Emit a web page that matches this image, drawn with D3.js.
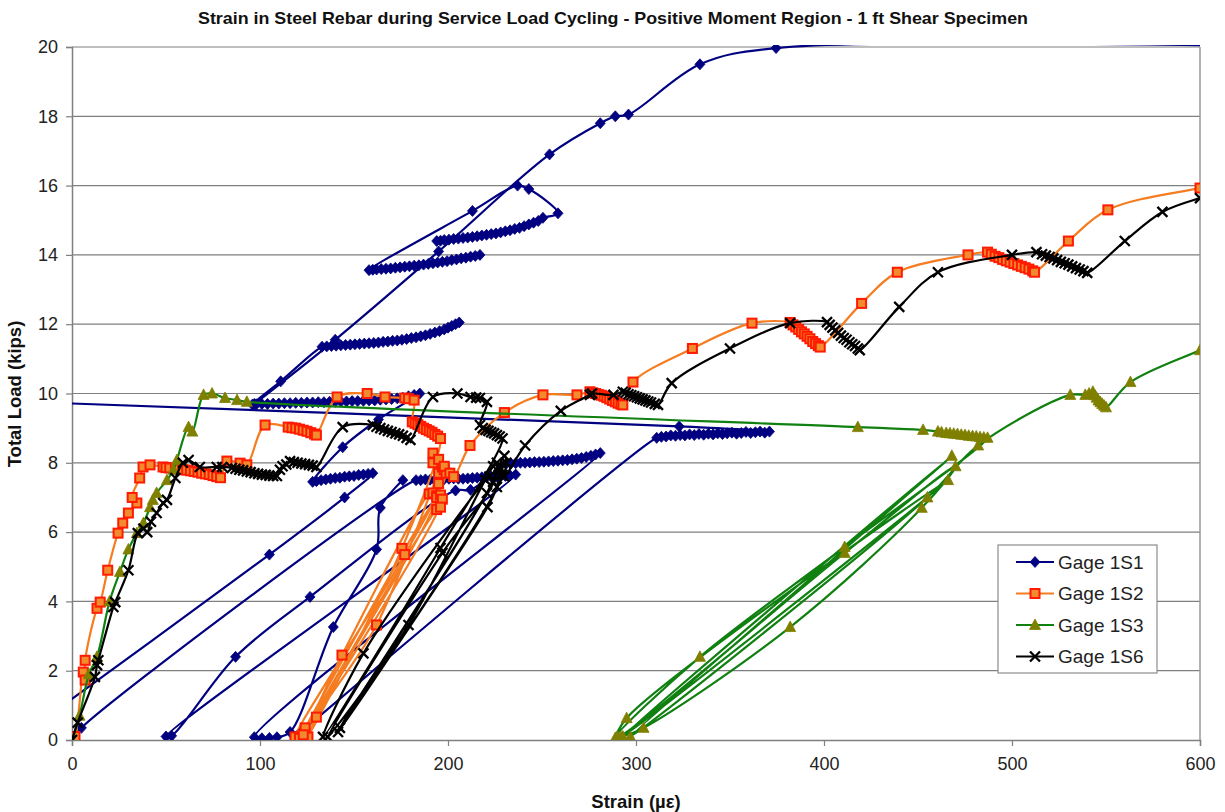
<!DOCTYPE html>
<html>
<head>
<meta charset="utf-8">
<script src="https://cdn.jsdelivr.net/npm/d3@7"></script>
<style>
  html, body { margin: 0; padding: 0; background: #fff; }
  svg { display: block; }
  text { font-family: "Liberation Sans", Arial, sans-serif; }
</style>
</head>
<body>
<svg id="chart" width="1225" height="812"></svg>
<script>
// ---- chart text ----
const chartTitle = "Strain in Steel Rebar during Service Load Cycling - Positive Moment Region - 1 ft Shear Specimen";
const xTitle = "Strain (\u00B5\u03B5)";
const yTitle = "Total Load (kips)";
const strainTicks = [0, 100, 200, 300, 400, 500, 600];
const loadTicks = [0, 2, 4, 6, 8, 10, 12, 14, 16, 18, 20];
const gageNames = ["Gage 1S1", "Gage 1S2", "Gage 1S3", "Gage 1S6"];

// ---- readings: [strain (microstrain), total load (kips)], grouped in logged runs ----
const gage1S1 = [
  [[-40,9.79],[323,9.05],[371,8.9],[368.5,8.87],[366,8.9],[363.5,8.88],[361,8.86],[358.5,8.89],[356,8.86],[353.5,8.84],[351,8.87],[348.5,8.85],[346,8.83],[343.5,8.85],
   [341,8.82],[338.5,8.84],[336,8.81],[333.5,8.83],[331,8.8],[328.5,8.82],[326,8.79],[323.5,8.8],[321,8.78],[318.5,8.79],[316,8.76],[313.5,8.75],[311,8.72],[121,0.2]],
  [[-30,0],[105,5.35],[145,7.0],[160,7.7],[157.5,7.68],[155,7.66],[152.5,7.65],[150,7.62],[147.5,7.61],[145,7.6],[142.5,7.57],[140,7.56],[137.5,7.54],[135,7.52],[132.5,7.5],[130,7.47],[128,7.45],
   [144,8.45],[163,9.25],[185,10.0],[182,9.96],[179,9.92],[176,9.88],[173,9.86],[170,9.84],[167,9.83],[164,9.82],[161,9.8],[158,9.8],[155,9.79],[152,9.78],[149,9.78],[146,9.77],[143,9.77],
   [140,9.76],[137,9.76],[134,9.75],[131,9.75],[128,9.74],[125,9.74],[122,9.73],[119,9.73],[116,9.72],[113,9.72],[110,9.71],[107,9.71],[104,9.7],[101,9.7],[98,9.69],[96,9.68],
   [111,10.35],[133,11.35],[135.5,11.36],[138,11.37],[140.5,11.38],[143,11.39],[145.5,11.4],[148,11.41],[150.5,11.42],[153,11.43],[155.5,11.44],[158,11.45],[160.5,11.46],[163,11.47],
   [165.5,11.49],[168,11.5],[170.5,11.52],[173,11.53],[175.5,11.55],[178,11.57],[180.5,11.6],[183,11.62],[185.5,11.65],[188,11.68],[190.5,11.72],[193,11.76],[195.5,11.8],[198,11.85],
   [200,11.9],[202,11.95],[204,12.0],[206,12.05]],
  [[217,14.0],[214.5,13.97],[212,13.95],[209.5,13.92],[207,13.9],[204.5,13.87],[202,13.85],[199.5,13.82],[197,13.8],[194.5,13.78],[192,13.76],[189.5,13.74],[187,13.72],[184.5,13.7],
   [182,13.69],[179.5,13.67],[177,13.66],[174.5,13.64],[172,13.63],[169.5,13.61],[167,13.6],[164.5,13.59],[162,13.58],[160,13.57],[158,13.56],
   [213,15.27],[237,16.0],[243,15.9],[258.5,15.2],[250.5,15.07],[248,14.98],[245.5,14.93],[243,14.88],[240.5,14.83],[238,14.78],[235.5,14.75],[233,14.71],[230.5,14.68],[228,14.65],
   [225.5,14.62],[223,14.6],[220.5,14.58],[218,14.56],[215.5,14.54],[213,14.52],[210.5,14.5],[208,14.49],[205.5,14.47],[203,14.46],[200.5,14.44],[198,14.43],[196,14.41],[194,14.4]],
  [[97,9.7],[140,11.55],[195,14.1],[254,16.9],[281,17.8],[289,18.0],[296,18.05],[334,19.5],[374.5,19.97],[650,20]],
  [[0,0],[5,0.35],[183,7.5],[185.5,7.5],[188,7.52],[190.5,7.51],[193,7.5],[195.5,7.52],[198,7.53],[200.5,7.54],[203,7.55],[205.5,7.54],[208,7.54],[210.5,7.55],[213,7.56],[215.5,7.57],
   [218,7.58],[220.5,7.59],[223,7.6],[225.5,7.6],[228,7.61],[230.5,7.62],[233,7.64],[236,7.66],
   [50,0.1],[53,0.12],[87,2.4],[126.6,4.13],[204,7.2],[212,7.22],
   [231,7.97],[233.5,7.98],[236,7.99],[238.5,8.0],[241,8.0],[243.5,8.01],[246,8.02],[248.5,8.02],[251,8.03],[253.5,8.04],[256,8.05],[258.5,8.06],[261,8.07],[263.5,8.08],[266,8.1],
   [268.5,8.12],[271,8.14],[273.5,8.17],[276,8.2],[278.5,8.24],[281,8.28],
   [97,0.08],[101,0.05],[105,0.06],[109,0.08],[116,0.23],[139,3.26],[162,5.5],[164,6.7],[176,7.5]]
];

const gage1S2 = [
  [[0,0],[1.6,0.1],[6,1.96],[7,1.73],[7,2.3],[13.3,3.8],[15,3.98],[19,4.9],[24.5,5.97],[27,6.26],[30,6.55],[34.5,6.84],[32,7.0],[36,7.56],[37.8,7.88],[41.5,7.94],[48.4,7.88],
   [50,7.86],[52,7.85],[55,7.84],[57,7.82],[59,7.8],[61,7.79],[63,7.77],[65,7.75],[67,7.73],[69,7.7],[71,7.68],[73,7.66],[75,7.63],[77,7.6],[79,7.57],
   [82.4,8.05],[89.4,7.99],[93,7.94],
   [102.7,9.09],[115,9.03],[117,9.01],[119,9.0],[121,8.97],[123,8.94],[125,8.91],[127,8.87],[129,8.83],[130,8.8],
   [141,9.9],[157,10.0],[166.5,9.9],[177,9.87],[179,9.85],[182,9.81],
   [181,9.18],[182.5,9.14],[184,9.1],[185.5,9.05],[187,9.0],[188.5,8.96],[190,8.92],[191.5,8.88],[193,8.82],[194.5,8.77],[196,8.7],
   [175.5,5.53],[125.5,0.09],[130,0.66],[162,3.32],[195,7.7],[197,7.88],[198,7.8],[199,7.7],
   [177,5.35],[118.6,0.09],[124,0.35],[143.6,2.45],[190,7.1],[192,7.13],[194,7.05],
   [121,0.05],[194,7.0],[196,7.07],[197,6.95],
   [123,0.15],[194,6.65],[196,6.72],[195,7.4],[192,8.0],[192,8.28],[195,8.1],[198,7.9],[201,7.7],[203,7.6],
   [211.7,8.5],[230,9.45],[250.5,9.96],[268.6,9.96],[275.5,10.05],[277,10.02],[278.5,10.0],[280,9.97],[281.5,9.95],[283,9.92],[284.5,9.88],[286,9.84],[287.5,9.8],[289,9.76],[290.5,9.72],[292,9.69],[293,9.67],
   [298.4,10.33],[330,11.3],[361.7,12.03],[382,12.05],[383.5,11.98],[385,11.92],[386.5,11.85],[388,11.78],[389.5,11.72],[391,11.65],[392.5,11.58],[394,11.5],[395.5,11.44],[397,11.38],[398,11.34],
   [420,12.6],[439,13.5],[476.6,14.0],[487,14.08],[489,14.02],[491,13.96],[493,13.92],[495,13.87],[497,13.83],[499,13.79],[501,13.75],[503,13.71],[505,13.67],[507,13.63],[509,13.59],[511,13.54],[512,13.5],
   [530,14.4],[551,15.3],[600,15.93],[640,16.3]]
];

const gage1S3 = [
  [[0,0],[4,0.7],[9,1.9],[13.3,2.4],[20,4.0],[25.5,4.85],[30,5.5],[34.5,5.97],[38,6.26],[41.5,6.72],[43,6.93],[45,7.13],[50.5,7.5],[54,7.8],[55.8,8.08],
   [62,9.03],[64,8.9],[70,9.96],[74.5,10.0],[81.4,9.87],[87.8,9.81],[93,9.76],
   [418,9.03],[452.7,8.95],[460.6,8.9],[462.5,8.88],[465,8.86],[467,8.85],[469,8.84],[471,8.83],[473,8.81],[475,8.8],[477,8.78],[479,8.77],[481,8.76],[483,8.74],[485,8.73],[487,8.72],
   [411,5.57],[334,2.4],[289,0.06],[292,0.09],[304,0.35],[382,3.26],[452,6.7],[470,7.9],
   [411,5.4],[290,0.1],[295,0.63],[466,7.5],[293,0.1],[468,8.2],[297,0.09],[455,7.0],
   [482,8.5],[531,9.96],[539,9.96],[541,10.0],[543,10.05],[544,9.95],[545,9.88],[546,9.8],[547,9.75],[548,9.7],[549,9.65],[550,9.6],[563,10.33],[600,11.25],[620,11.7]]
];

const gage1S6 = [
  [[0,0],[3,0.5],[12.2,1.82],[13.3,2.16],[14,2.3],[22,3.84],[23,3.98],[30,4.9],[35,5.97],[38,6.1],[40,6.0],[42,6.3],[45,6.55],[48.5,6.84],[50.5,6.93],[55,7.56],[59,8.0],[62,8.08],
   [68,7.88],[77,7.88],[80,7.88],[85,7.85],[87,7.83],[89,7.8],[91,7.78],[93,7.75],[95,7.73],[97,7.7],[99,7.68],[101,7.66],[103,7.65],[105,7.63],[107,7.62],[109,7.62],
   [110.6,7.8],[112,7.9],[114,7.95],[116,8.05],[118,8.02],[120,8.0],[122,7.98],[124,7.96],[126,7.94],[128,7.92],[130,7.88],
   [144,9.03],[160,9.09],[162,9.04],[164,9.0],[166,8.96],[168,8.92],[170,8.89],[172,8.85],[174,8.82],[176,8.78],[178,8.72],[180,8.66],
   [192,9.9],[205,10.0],[212,9.9],[215,9.88],[217,9.87],[220.7,9.76],
   [217,9.09],[218.5,9.0],[220,8.95],[221.5,8.92],[223,8.88],[224.5,8.85],[226,8.8],[227.5,8.76],[229,8.7],
   [196,5.54],[133.5,0.09],[155,2.5],[220,7.5],[222,7.6],[224,7.45],
   [197,5.4],[136,0.09],[179,3.32],[224,7.9],[226,8.0],[227,7.85],
   [142.5,0.35],[221,6.72],[226,7.3],[228,7.8],[229,7.65],
   [141.5,0.23],[220.7,7.13],[227,7.9],[230,8.2],[231,8.0],[230,7.6],
   [241,8.5],[260,9.5],[275.5,9.96],[276.6,10.0],[288,9.96],[293,10.05],[294.5,10.02],[296,9.98],[297.5,9.95],[299,9.92],[300.5,9.89],[302,9.86],[303.5,9.83],[305,9.8],[306.5,9.77],[308,9.74],[310,9.7],[311.7,9.67],
   [319,10.3],[350,11.3],[382,12.03],[401.6,12.06],[403,11.98],[404.5,11.9],[406,11.82],[407.5,11.75],[409,11.67],[410.5,11.6],[412,11.55],[413.5,11.48],[415,11.42],[416.5,11.37],[418,11.3],[419,11.25],
   [440,12.5],[460.6,13.5],[500,14.0],[513,14.08],[516,14.02],[518,13.98],[520,13.94],[522,13.9],[524,13.85],[526,13.8],[528,13.76],[530,13.72],[532,13.67],[534,13.62],[536,13.58],[538,13.53],[540,13.48],
   [560,14.4],[580,15.24],[600,15.64],[640,16.2]]
];

// ---- layout ----
const svg = d3.select("#chart");
const plot = { left: 72, right: 1200, top: 47, bottom: 740 };
const x = d3.scaleLinear().domain([0, 600]).range([plot.left, plot.right]);
const y = d3.scaleLinear().domain([0, 20]).range([plot.bottom, plot.top]);

svg.append("defs").append("clipPath").attr("id", "plotClip")
  .append("rect")
  .attr("x", plot.left).attr("y", plot.top - 2)
  .attr("width", plot.right - plot.left).attr("height", plot.bottom - plot.top + 2);

// horizontal gridlines
svg.append("g")
  .selectAll("line").data(loadTicks.filter(d => d > 0)).join("line")
  .attr("x1", plot.left).attr("x2", plot.right)
  .attr("y1", d => y(d)).attr("y2", d => y(d))
  .attr("stroke", "#7f7f7f").attr("stroke-width", 1.2);

// right border of plot area
svg.append("line")
  .attr("x1", plot.right).attr("x2", plot.right)
  .attr("y1", plot.top).attr("y2", plot.bottom)
  .attr("stroke", "#9a9a9a").attr("stroke-width", 1.5);

// axes
const xAxis = svg.append("g").attr("transform", `translate(0,${plot.bottom})`)
  .call(d3.axisBottom(x).tickValues(strainTicks).tickSize(6).tickPadding(11).tickFormat(d3.format("d")));
const yAxis = svg.append("g").attr("transform", `translate(${plot.left},0)`)
  .call(d3.axisLeft(y).tickValues(loadTicks).tickSize(6).tickPadding(8).tickFormat(d3.format("d")));
[xAxis, yAxis].forEach(g => {
  g.select(".domain").attr("stroke", "#7f7f7f").attr("stroke-width", 1.5);
  g.selectAll(".tick line").attr("stroke", "#7f7f7f").attr("stroke-width", 1.2);
  g.selectAll(".tick text").attr("font-size", 18).attr("fill", "#222")
    .attr("font-family", "'Liberation Sans', Arial, sans-serif");
});

// titles
svg.append("text").attr("x", 613).attr("y", 24).attr("text-anchor", "middle")
  .attr("font-size", 17).attr("font-weight", "bold").attr("fill", "#111")
  .attr("textLength", 830).attr("lengthAdjust", "spacingAndGlyphs").text(chartTitle);
svg.append("text").attr("x", 636).attr("y", 808).attr("text-anchor", "middle")
  .attr("font-size", 18.5).attr("font-weight", "bold").attr("fill", "#111").text(xTitle);
svg.append("text").attr("transform", "translate(21,394) rotate(-90)").attr("text-anchor", "middle")
  .attr("font-size", 18.5).attr("font-weight", "bold").attr("fill", "#111").text(yTitle);

// ---- marker shapes ----
const markerDraw = {
  diamond: g => g.append("path").attr("d", "M0,-5.5L5,0L0,5.5L-5,0Z").attr("fill", "#000080").attr("stroke", "#000080").attr("stroke-width", 0.8),
  square: g => g.append("rect").attr("x", -4.5).attr("y", -4.5).attr("width", 9).attr("height", 9)
    .attr("fill", "#f28a2e").attr("stroke", "#ff1a00").attr("stroke-width", 2),
  triangle: g => g.append("path").attr("d", "M0,-6L5.5,4.5L-5.5,4.5Z").attr("fill", "#7f7f00").attr("stroke", "#7f7f00").attr("stroke-width", 0.8),
  cross: g => g.append("path").attr("d", "M-5,-5L5,5M-5,5L5,-5").attr("fill", "none").attr("stroke", "#000").attr("stroke-width", 2.3)
};

const series = [
  { name: gageNames[0], runs: gage1S1, color: "#000080", marker: "diamond" },
  { name: gageNames[1], runs: gage1S2, color: "#f57c20", marker: "square" },
  { name: gageNames[2], runs: gage1S3, color: "#108010", marker: "triangle" },
  { name: gageNames[3], runs: gage1S6, color: "#000000", marker: "cross" }
];

const line = d3.line().x(d => x(d[0])).y(d => y(d[1])).curve(d3.curveCatmullRom.alpha(0.5));
const plotArea = svg.append("g").attr("clip-path", "url(#plotClip)");

series.forEach(s => {
  const g = plotArea.append("g");
  g.selectAll("path.run").data(s.runs).join("path").attr("class", "run")
    .attr("d", line).attr("fill", "none").attr("stroke", s.color).attr("stroke-width", 2.2);
  s.runs.forEach(run => {
    run.forEach(p => {
      const m = g.append("g").attr("transform", `translate(${x(p[0])},${y(p[1])})`);
      markerDraw[s.marker](m);
    });
  });
});

// ---- legend ----
const legend = svg.append("g").attr("transform", "translate(998,545)");
legend.append("rect").attr("width", 159).attr("height", 128)
  .attr("fill", "#fff").attr("stroke", "#8c8c8c").attr("stroke-width", 1.2);
series.forEach((s, i) => {
  const ly = 17 + i * 31.5;
  legend.append("line").attr("x1", 18).attr("x2", 56).attr("y1", ly).attr("y2", ly)
    .attr("stroke", s.color).attr("stroke-width", 2.2);
  markerDraw[s.marker](legend.append("g").attr("transform", `translate(37,${ly})`));
  legend.append("text").attr("x", 60).attr("y", ly + 6.5).attr("font-size", 19).attr("fill", "#222").text(s.name);
});
</script>
</body>
</html>
